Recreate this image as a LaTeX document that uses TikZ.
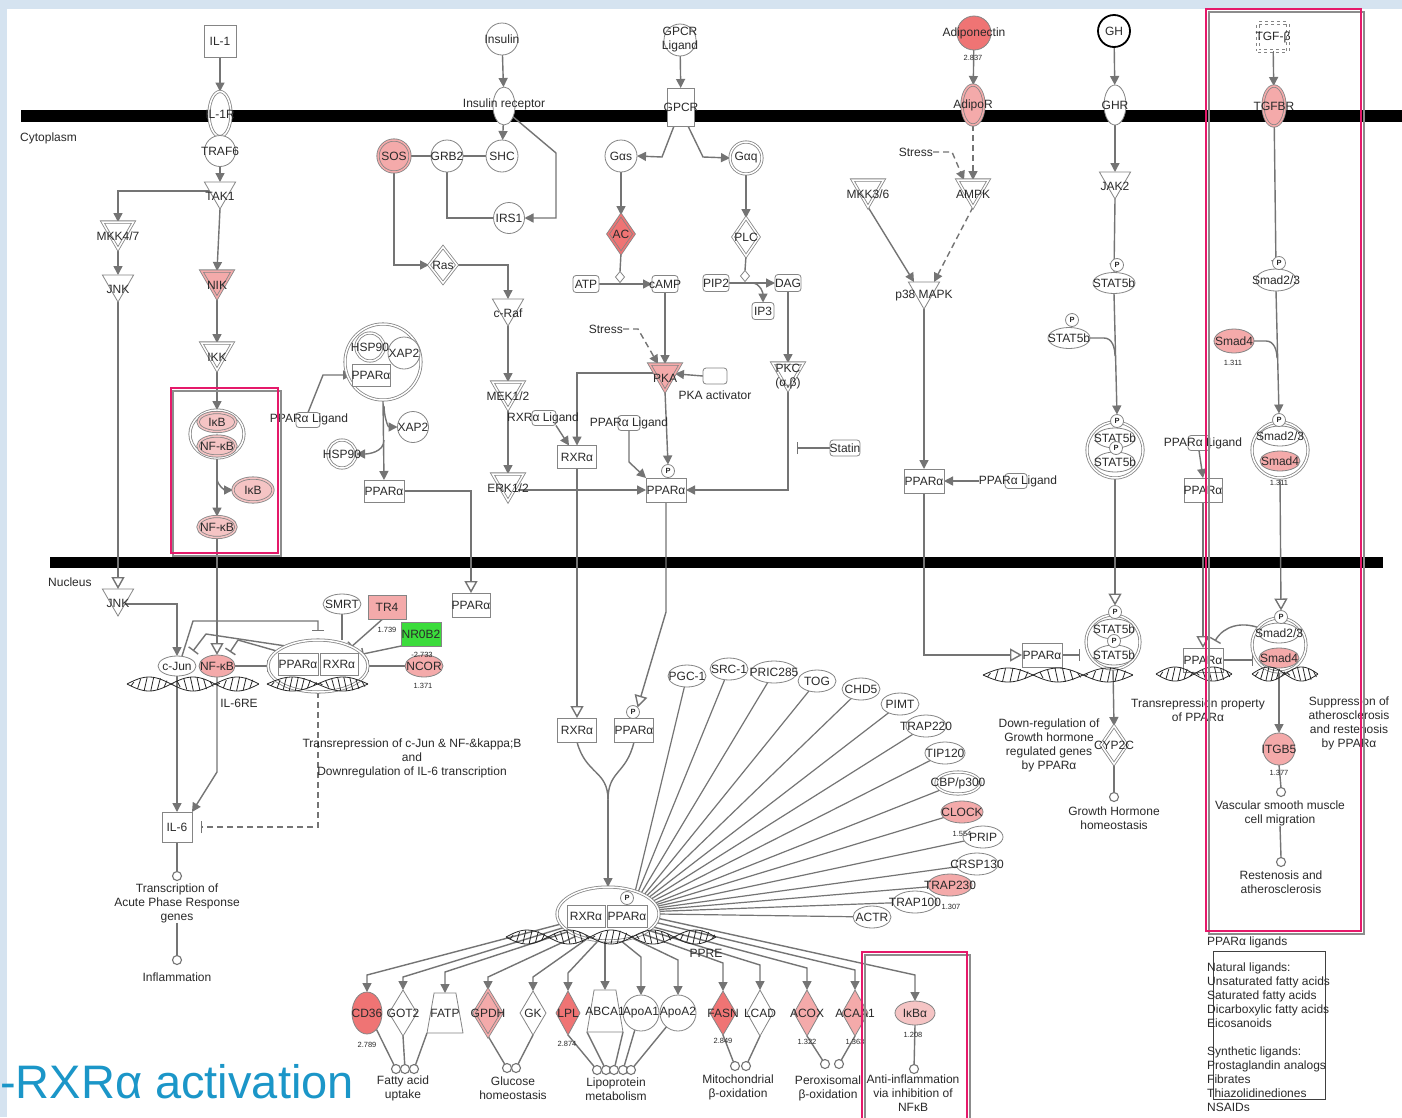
\documentclass[tikz,border=0pt]{standalone}
\usepackage{fontspec}
\setmainfont{Liberation Sans}
\usetikzlibrary{shapes.geometric,arrows.meta,calc}
\pgfdeclarelayer{back}
\pgfdeclarelayer{bg}
\pgfdeclarelayer{front}
\pgfsetlayers{back,bg,main,front}
\definecolor{ln}{HTML}{747474}
\definecolor{nb}{HTML}{858585}
\definecolor{tx}{HTML}{2A2A2A}
\definecolor{pk1}{HTML}{F5C4C4}
\definecolor{pk2}{HTML}{F4AAAA}
\definecolor{pk3}{HTML}{EF7474}
\definecolor{grn}{HTML}{3BDC3B}
\definecolor{hl}{HTML}{E5196A}
\definecolor{ttl}{HTML}{1B96C8}
\definecolor{bgb}{HTML}{D5E3F0}
\newcommand\lf{\fontsize{12}{14}\selectfont}
\newcommand\nf{\fontsize{7.5}{8}\selectfont}
\newcommand\dnahelix[5]{%
 \draw[hx] plot[domain=0:1,samples=70,variable=\t] ({#1+\t*(#2-#1)},{#3+7*sin(\t*180*#4)});
 \draw[hx] plot[domain=0:1,samples=70,variable=\t] ({#1+\t*(#2-#1)},{#3-7*sin(\t*180*#4)});
 \foreach \s in {#5}{\draw[hx] ({#1+\s*(#2-#1)},{#3+7*sin(\s*180*#4)}) -- ({#1+\s*(#2-#1)+3},{#3-7*sin(\s*180*#4)});}
}
\tikzset{
 shp/.style={draw=nb,fill=white,line width=0.8pt,inner sep=0pt,outer sep=0pt},
 bx/.style 2 args={shp,rectangle,minimum width=#1pt,minimum height=#2pt},
 rbx/.style 2 args={bx={#1}{#2},rounded corners=3pt},
 el/.style 2 args={shp,ellipse,minimum width=#1pt,minimum height=#2pt},
 ci/.style={shp,circle,minimum size=#1pt},
 dia/.style 2 args={shp,diamond,minimum width=#1pt,minimum height=#2pt},
 tri/.style={shp,regular polygon,regular polygon sides=3,shape border rotate=180,minimum size=#1pt},
 trap/.style 2 args={shp,trapezium,inner sep=2pt,trapezium left angle=72,trapezium right angle=72,trapezium stretches=true,minimum width=#1pt,minimum height=#2pt},
 dbl/.style={double=#1,double distance=1.5pt},
 dbl/.default=white,
 lbl/.style={font=\lf,text=tx,inner sep=0pt,align=center},
 tl/.style={lbl,yshift=-5pt},
 val/.style={font=\nf,text=tx,inner sep=0pt},
 pc/.style={ci=9,draw=ln,line width=1.1pt},
 pp/.style={ci=13,label={[font=\nf\bfseries,text=tx]center:P}},
 pl/.style={draw=ln,line width=1.4pt},
 ar/.style={pl,-{Triangle[length=9pt,width=9pt]}},
 oa/.style={pl,-{Triangle[open,length=12pt,width=13pt,fill=white]}},
 inh/.style={pl,-{Bar[width=12pt]}},
 dsh/.style={dash pattern=on 6pt off 4pt},
 hx/.style={draw=black!85,line width=0.8pt},
}
\begin{document}
\begin{tikzpicture}[x=1pt,y=-1pt]
\useasboundingbox (0,0) rectangle (1402,1117);
\begin{pgfonlayer}{back}
\fill[bgb] (0,0) rectangle (1402,1117);
\fill[white] (7,9) rectangle (1402,1117);
\fill[black] (21,110) rectangle (1402,122);
\fill[black] (50,557) rectangle (1383,568);
\end{pgfonlayer}
\node[anchor=base west,font=\fontsize{47}{47}\selectfont,text=ttl,inner sep=0pt] (title) at (0,1098) {-RXRα activation};
\node[lbl,anchor=west] (cyto) at (20,138) {Cytoplasm};
\node[lbl,anchor=west] (nucl) at (48,582) {Nucleus};
% ---------- IL-1 branch
\node[bx={32}{32},label={[lbl]center:{IL-1}}] (il1) at (220,41) {};
\node[el={22}{45},dbl,label={[lbl]center:{IL-1R}}] (il1r) at (220,114) {};
\node[ci=31,label={[lbl]center:{TRAF6}}] (traf6) at (220,151) {};
\node[tri=36,label={[tl]center:{TAK1}}] (tak1) at (220,191) {};
\node[tri=36,dbl,label={[tl]center:{MKK4/7}}] (mkk47) at (118,231) {};
\node[tri=36,label={[tl]center:{JNK}}] (jnk1) at (118,284) {};
\node[tri=36,dbl=pk2,fill=pk2,label={[tl]center:{NIK}}] (nik) at (217,280) {};
\node[tri=36,dbl,label={[tl]center:{IKK}}] (ikk) at (217,352) {};
\node[el={54}{48},dbl] (cxi) at (217,434) {};
\node[el={38}{19},dbl=pk1,fill=pk1,label={[lbl]center:{IκB}}] (ikb1) at (217,422) {};
\node[el={38}{20},dbl=pk1,fill=pk1,label={[lbl]center:{NF-κB}}] (nfkb1) at (217,446) {};
\node[el={40}{24},dbl=pk1,fill=pk1,label={[lbl]center:{IκB}}] (ikb2) at (253,490) {};
\node[el={38}{21},dbl=pk1,fill=pk1,label={[lbl]center:{NF-κB}}] (nfkb2) at (217,527) {};
% ---------- Insulin branch
\node[ci=32,label={[lbl]center:{Insulin}}] (ins) at (502,39) {};
\node[el={22}{38},label={[lbl,yshift=2pt]center:{Insulin receptor}}] (insr) at (504,106) {};
\node[ci=32,label={[lbl]center:{SHC}}] (shc) at (502,156) {};
\node[ci=32,label={[lbl]center:{GRB2}}] (grb2) at (447,156) {};
\node[ci=32,dbl=pk2,fill=pk2,label={[lbl]center:{SOS}}] (sos) at (394,156) {};
\node[ci=31,label={[lbl]center:{IRS1}}] (irs1) at (509,218) {};
\node[dia={28}{36},dbl,label={[lbl]center:{Ras}}] (ras) at (443,265) {};
\node[tri=36,label={[tl]center:{c-Raf}}] (craf) at (508,308) {};
\node[tri=36,dbl,label={[tl]center:{MEK1/2}}] (mek) at (508,391) {};
\node[tri=36,dbl,label={[tl]center:{ERK1/2}}] (erk) at (508,483) {};
% ---------- GPCR branch
\node[ci=32,label={[lbl]center:{GPCR\\Ligand}}] (gpcrl) at (680,40) {};
\node[bx={27}{38},label={[lbl]center:{GPCR}}] (gpcr) at (681,107) {};
\node[ci=32,label={[lbl]center:{Gαs}}] (gas) at (621,156) {};
\node[ci=32,dbl,label={[lbl]center:{Gαq}}] (gaq) at (746,158) {};
\node[dia={26}{38},dbl=pk3,fill=pk3,label={[lbl]center:{AC}}] (ac) at (621,234) {};
\node[dia={26}{38},dbl,label={[lbl]center:{PLC}}] (plc) at (746,237) {};
\node[rbx={26}{17},label={[lbl]center:{ATP}}] (atp) at (586,284) {};
\node[rbx={26}{17},label={[lbl]center:{cAMP}}] (camp) at (665,284) {};
\node[rbx={26}{17},label={[lbl]center:{PIP2}}] (pip2) at (716,283) {};
\node[rbx={26}{17},label={[lbl]center:{DAG}}] (dag) at (788,283) {};
\node[rbx={22}{17},label={[lbl]center:{IP3}}] (ip3) at (763,311) {};
\node[dia={9}{11}] (rd1) at (620,277) {};
\node[dia={9}{11}] (rd2) at (745,276) {};
\node[lbl,anchor=east] (str2) at (623,329) {Stress};
\node[tri=36,dbl=pk2,fill=pk2,label={[tl]center:{PKA}}] (pka) at (665,373) {};
\node[rbx={24}{16}] (pkaa) at (715,376) {};
\node[lbl] (pkaat) at (715,395) {PKA activator};
\node[tri=36,dbl,label={[tl]center:{PKC\\(α,β)}}] (pkc) at (788,372) {};
\node[rbx={30}{16},label={[lbl]center:{Statin}}] (statin) at (845,448) {};
\node[rbx={24}{15}] (rlb) at (544,418) {};
\node[lbl] (rlt) at (543,418) {RXRα Ligand};
\node[bx={39}{23},label={[lbl]center:{RXRα}}] (rxr1) at (577,457) {};
\node[rbx={22}{15}] (pl2b) at (629,423) {};
\node[lbl] (pl2t) at (629,423) {PPARα Ligand};
\node[bx={40}{24},label={[lbl]center:{PPARα}}] (ppar2) at (666,490) {};
\node[pp] (p2) at (668,471) {};
% ---------- HSP90 complex
\node[ci=76,dbl] (cxh) at (383,362) {};
\node[ci=32,label={[lbl]center:{XAP2}}] (xap1) at (404,353) {};
\node[ci=28,dbl,label={[lbl]center:{HSP90}}] (hsp1) at (370,347) {};
\node[bx={38}{22},label={[lbl]center:{PPARα}}] (pparc) at (371,375) {};
\node[rbx={24}{15}] (pl1b) at (308,420) {};
\node[lbl] (pl1t) at (309,419) {PPARα Ligand};
\node[ci=31,label={[lbl]center:{XAP2}}] (xap2) at (413,427) {};
\node[ci=28,dbl,label={[lbl]center:{HSP90}}] (hsp2) at (342,454) {};
\node[bx={40}{22},label={[lbl]center:{PPARα}}] (ppar1) at (384,491) {};
% ---------- Adiponectin branch
\node[ci=34,fill=pk3,label={[lbl]center:{Adiponectin}}] (adipo) at (974,33) {};
\node[val] (v1) at (973,58) {2.837};
\node[el={22}{40},dbl=pk2,fill=pk2,label={[lbl]center:{AdipoR}}] (adipor) at (973,105) {};
\node[lbl,anchor=east] (str1) at (933,152) {Stress};
\node[tri=36,dbl,label={[tl]center:{MKK3/6}}] (mkk36) at (868,189) {};
\node[tri=36,dbl,label={[tl]center:{AMPK}}] (ampk) at (973,189) {};
\node[tri=36,label={[tl]center:{p38 MAPK}}] (p38) at (924,291) {};
\node[bx={40}{24},label={[lbl]center:{PPARα}}] (ppar3) at (924,481) {};
\node[rbx={22}{15}] (pl3b) at (1016,481) {};
\node[lbl] (pl3t) at (1018,481) {PPARα Ligand};
% ---------- GH branch
\node[ci=32,draw=black,line width=1.8pt,label={[lbl]center:{GH}}] (gh) at (1114,31) {};
\node[el={22}{40},label={[lbl]center:{GHR}}] (ghr) at (1115,105) {};
\node[tri=36,label={[tl]center:{JAK2}}] (jak2) at (1115,181) {};
\node[el={42}{21},label={[lbl]center:{STAT5b}}] (st1) at (1114,283) {};
\node[pp] (st1p) at (1117,265) {};
\node[el={42}{21},label={[lbl]center:{STAT5b}}] (st2) at (1069,338) {};
\node[pp] (st2p) at (1072,320) {};
\node[ci=56,dbl] (cxs1) at (1115,450) {};
\node[el={40}{20},label={[lbl]center:{STAT5b}}] (st3) at (1115,438) {};
\node[el={40}{20},label={[lbl]center:{STAT5b}}] (st4) at (1115,462) {};
\node[pp] (st3p) at (1117,421) {};
\node[pp] (st4p) at (1116,448) {};
\node[rbx={22}{15}] (pl4b) at (1199,443) {};
\node[lbl] (pl4t) at (1203,443) {PPARα Ligand};
\node[bx={38}{24},label={[lbl]center:{PPARα}}] (ppar4) at (1203,490) {};
% ---------- TGF branch
\node[bx={30}{28},dashed,dbl,label={[lbl]center:{TGF-β}}] (tgfb) at (1273,37) {};
\node[el={22}{40},dbl=pk2,fill=pk2,label={[lbl]center:{TGFBR}}] (tgfbr) at (1274,106) {};
\node[el={40}{22},label={[lbl]center:{Smad2/3}}] (sm1) at (1276,280) {};
\node[pp] (sm1p) at (1279,263) {};
\node[el={40}{24},fill=pk2,label={[lbl]center:{Smad4}}] (sm4a) at (1234,341) {};
\node[val] (v2) at (1233,363) {1.311};
\node[ci=56,dbl] (cxsm1) at (1280,450) {};
\node[el={40}{20},label={[lbl]center:{Smad2/3}}] (sm2) at (1280,436) {};
\node[el={40}{20},fill=pk2,label={[lbl]center:{Smad4}}] (sm4b) at (1280,461) {};
\node[pp] (sm2p) at (1279,420) {};
\node[val] (v3) at (1279,483) {1.311};
% ---------- Nucleus left
\node[tri=36,label={[tl]center:{JNK}}] (jnk2) at (118,598) {};
\node[el={38}{20},label={[lbl]center:{c-Jun}}] (cjun) at (177,666) {};
\node[el={36}{22},fill=pk2,label={[lbl]center:{NF-κB}}] (nfkb3) at (217,666) {};
\node[lbl] (il6re) at (239,703) {IL-6RE};
\node[el={100}{52},dbl] (cxpr) at (318,666) {};
\node[bx={40}{22},label={[lbl]center:{PPARα}}] (pparn1) at (298,664) {};
\node[bx={38}{22},label={[lbl]center:{RXRα}}] (rxrn1) at (339,664) {};
\node[el={38}{20},label={[lbl]center:{SMRT}}] (smrt) at (342,604) {};
\node[bx={38}{24},fill=pk2,label={[lbl]center:{TR4}}] (tr4) at (387,607) {};
\node[val] (v4) at (387,630) {1.739};
\node[bx={40}{24},fill=grn,label={[lbl]center:{NR0B2}}] (nr0b2) at (421,634) {};
\node[el={38}{22},fill=pk2,label={[lbl]center:{NCOR}}] (ncor) at (424,666) {};
\node[val] (v5) at (422,655) {-2.733};
\node[val] (v6) at (423,686) {1.371};
\node[lbl] (trtxt) at (412,758) {Transrepression of c-Jun \& NF-\&kappa;B\\and\\Downregulation of IL-6 transcription};
\node[bx={30}{30},label={[lbl]center:{IL-6}}] (il6) at (177,827) {};
\node[pc] (pc1) at (177,876) {};
\node[lbl] (pc1t) at (177,903) {Transcription of\\Acute Phase Response\\genes};
\node[pc] (pc2) at (177,960) {};
\node[lbl] (pc2t) at (177,977) {Inflammation};
\node[bx={38}{24},label={[lbl]center:{PPARα}}] (pparn2) at (471,605) {};
% ---------- central nucleus
\node[bx={39}{24},label={[lbl]center:{RXRα}}] (rxrn2) at (577,730) {};
\node[bx={39}{24},label={[lbl]center:{PPARα}}] (pparn3) at (634,730) {};
\node[pp] (pn3p) at (633,712) {};
\coordinate (m1) at (608,800);
\node[el={102}{54},dbl] (big) at (608,914) {};
\node[bx={38}{22},label={[lbl]center:{RXRα}}] (rxrb) at (586,916) {};
\node[bx={40}{22},label={[lbl]center:{PPARα}}] (pparb) at (627,916) {};
\node[pp] (pbp) at (627,898) {};
\node[lbl] (ppre) at (706,953) {PPRE};
% coactivators
\node[el={38}{22},label={[lbl]center:{PGC-1}}] (pgc1) at (687,676) {};
\node[el={38}{22},label={[lbl]center:{SRC-1}}] (src1) at (729,669) {};
\node[el={46}{22},label={[lbl]center:{PRIC285}}] (pric) at (774,672) {};
\node[el={38}{22},label={[lbl]center:{TOG}}] (tog) at (817,681) {};
\node[el={38}{22},label={[lbl]center:{CHD5}}] (chd5) at (861,689) {};
\node[el={38}{22},label={[lbl]center:{PIMT}}] (pimt) at (900,704) {};
\node[el={40}{22},label={[lbl]center:{TRAP220}}] (trap220) at (926,726) {};
\node[el={40}{22},label={[lbl]center:{TIP120}}] (tip120) at (945,753) {};
\node[el={44}{22},dbl,label={[lbl]center:{CBP/p300}}] (cbp) at (958,783) {};
\node[el={42}{22},fill=pk2,label={[lbl]center:{CLOCK}}] (clock) at (962,812) {};
\node[el={40}{22},label={[lbl]center:{PRIP}}] (prip) at (983,837) {};
\node[val] (v7) at (962,834) {1.554};
\node[el={42}{22},label={[lbl]center:{CRSP130}}] (crsp) at (977,864) {};
\node[el={44}{22},fill=pk2,label={[lbl]center:{TRAP230}}] (trap230) at (950,885) {};
\node[el={44}{22},label={[lbl]center:{TRAP100}}] (trap100) at (915,902) {};
\node[val] (v8) at (951,907) {1.307};
\node[el={38}{22},label={[lbl]center:{ACTR}}] (actr) at (872,917) {};
% target genes
\node[el={30}{42},fill=pk3,label={[lbl]center:{CD36}}] (cd36) at (367,1013) {};
\node[val] (v9) at (367,1045) {2.789};
\node[dia={28}{46},label={[lbl]center:{GOT2}}] (got2) at (403,1013) {};
\node[trap={36}{40},label={[lbl]center:{FATP}}] (fatp) at (445,1013) {};
\node[dia={28}{46},dbl=pk2,fill=pk2,label={[lbl]center:{GPDH}}] (gpdh) at (488,1013) {};
\node[dia={26}{44},label={[lbl]center:{GK}}] (gk) at (533,1013) {};
\node[dia={24}{44},fill=pk3,label={[lbl]center:{LPL}}] (lpl) at (568,1013) {};
\node[val] (v10) at (567,1044) {2.874};
\node[trap={36}{42},label={[lbl]center:{ABCA1}}] (abca1) at (605,1011) {};
\node[ci=36,label={[lbl]center:{ApoA1}}] (apoa1) at (641,1013) {};
\node[ci=36,label={[lbl]center:{ApoA2}}] (apoa2) at (678,1013) {};
\node[dia={26}{44},fill=pk3,label={[lbl]center:{FASN}}] (fasn) at (723,1013) {};
\node[val] (v11) at (723,1041) {2.849};
\node[dia={26}{46},label={[lbl]center:{LCAD}}] (lcad) at (760,1013) {};
\node[dia={26}{46},fill=pk2,label={[lbl]center:{ACOX}}] (acox) at (807,1013) {};
\node[val] (v12) at (807,1042) {1.322};
\node[dia={26}{46},fill=pk2,label={[lbl]center:{ACAA1}}] (acaa1) at (855,1013) {};
\node[val] (v13) at (855,1042) {1.363};
\node[el={40}{24},fill=pk1,label={[lbl]center:{IκBα}}] (ikba) at (915,1013) {};
\node[val] (v14) at (913,1035) {1.208};
% process circles
\node[pc] (fa1) at (396,1069) {};
\node[pc] (fa2) at (405,1069) {};
\node[pc] (fa3) at (414,1069) {};
\node[lbl] (fat) at (403,1088) {Fatty acid\\uptake};
\node[pc] (gl1) at (507,1068) {};
\node[pc] (gl2) at (516,1068) {};
\node[lbl] (glt) at (513,1088) {Glucose\\homeostasis};
\node[pc] (lp1) at (597,1070) {};
\node[pc] (lp2) at (606,1070) {};
\node[pc] (lp3) at (614,1070) {};
\node[pc] (lp4) at (623,1070) {};
\node[pc] (lp5) at (631,1070) {};
\node[lbl] (lpt) at (616,1089) {Lipoprotein\\metabolism};
\node[pc] (mi1) at (735,1066) {};
\node[pc] (mi2) at (746,1066) {};
\node[lbl] (mit) at (738,1087) {Mitochondrial\\β-oxidation};
\node[pc] (pe1) at (825,1064) {};
\node[pc] (pe2) at (839,1064) {};
\node[lbl] (pet) at (828,1088) {Peroxisomal\\β-oxidation};
\node[pc] (ai1) at (914,1069) {};
\node[lbl] (ait) at (913,1093) {Anti-inflammation\\via inhibition of\\NFκB};
% ---------- right nucleus
\node[bx={40}{24},label={[lbl]center:{PPARα}}] (pparn4) at (1042,655) {};
\node[ci=54,dbl] (cxs2) at (1113,642) {};
\node[el={40}{20},label={[lbl]center:{STAT5b}}] (st5) at (1114,629) {};
\node[el={40}{20},label={[lbl]center:{STAT5b}}] (st6) at (1114,655) {};
\node[pp] (s5p) at (1115,612) {};
\node[pp] (s6p) at (1114,641) {};
\node[dia={26}{38},dbl,label={[lbl]center:{CYP2C}}] (cyp) at (1114,745) {};
\node[lbl] (dwn) at (1049,745) {Down-regulation of\\Growth hormone\\regulated genes\\by PPARα};
\node[pc] (pc3) at (1114,797) {};
\node[lbl] (pc3t) at (1114,818) {Growth Hormone\\homeostasis};
\node[bx={40}{24},label={[lbl]center:{PPARα}}] (pparn5) at (1203,660) {};
\node[ci=54,dbl] (cxsm2) at (1279,645) {};
\node[el={40}{20},label={[lbl]center:{Smad2/3}}] (sm5) at (1279,633) {};
\node[el={40}{20},fill=pk2,label={[lbl]center:{Smad4}}] (sm6) at (1279,658) {};
\node[pp] (sm5p) at (1281,617) {};
\node[lbl] (trp) at (1198,710) {Transrepression property\\of PPARα};
\node[lbl] (sup) at (1349,723) {Suppression of\\atherosclerosis\\and restenosis\\by PPARα};
\node[ci=32,fill=pk2,label={[lbl]center:{ITGB5}}] (itgb5) at (1279,749) {};
\node[val] (v15) at (1279,773) {1.377};
\node[pc] (pc4) at (1281,792) {};
\node[lbl] (pc4t) at (1280,813) {Vascular smooth muscle\\cell migration};
\node[pc] (pc5) at (1281,862) {};
\node[lbl] (pc5t) at (1281,882) {Restenosis and\\atherosclerosis};
\node[lbl,anchor=west] (ligt) at (1207,942) {PPARα ligands};
\node[draw=black!75,line width=0.7pt,minimum width=112pt,minimum height=148pt,anchor=north west,inner sep=0pt] (ligbox) at (1213,951) {};
\node[lbl,anchor=north west,align=left] (ligl) at (1207,963) {Natural ligands:\\Unsaturated fatty acids\\Saturated fatty acids\\Dicarboxylic fatty acids\\Eicosanoids\\[14pt]Synthetic ligands:\\Prostaglandin analogs\\Fibrates\\Thiazolidinediones\\NSAIDs};
% DNA helices
\dnahelix{127}{259}{684}{3}{0.03,0.08,...,0.98}
\dnahelix{267}{368}{684}{2}{0.04,0.1,...,0.98}
\dnahelix{506}{716}{937}{5}{0.02,0.05,...,0.98}
\dnahelix{983}{1133}{675}{3}{0.03,0.08,...,0.98}
\dnahelix{1156}{1232}{674}{2}{0.05,0.13,...,0.98}
\dnahelix{1252}{1318}{674}{2}{0.05,0.13,...,0.98}
% ---------- connectors
\begin{pgfonlayer}{bg}
\draw[ar] (il1) -- (il1r);
\draw[pl] (il1r) -- (traf6);
\draw[ar] (traf6) -- (tak1.north);
\draw[ar] (tak1.west) -| (mkk47.north);
\draw[ar] (tak1.south) -- (nik.north);
\draw[ar] (mkk47.south) -- (jnk1.north);
\draw[ar] (nik.south) -- (ikk.north);
\draw[ar] (ikk.south) -- (cxi.north);
\draw[ar] (cxi.south) -- (nfkb2.north);
\coordinate (b1) at (217,478);
\draw[ar] (b1) to[out=-90,in=180] (ikb2.west);
\draw[oa] (nfkb2.south) -- (nfkb3.north);
\draw[oa] (jnk1.south) -- (jnk2.north);
\draw[ar] ([xshift=-3pt,yshift=-6pt]jnk2.east) -| (cjun.north);
\draw[ar] (ins) -- (insr);
\draw[ar] (insr) -- (shc);
\draw[ar] (insr.-50) -- (556,153) |- (irs1.east);
\draw[pl] (sos) -- (grb2);
\draw[pl] (grb2) -- (shc);
\draw[pl] (grb2.south) |- (irs1.west);
\draw[ar] (sos.south) |- (ras.west);
\draw[ar] (ras.east) -| (craf.north);
\draw[ar] (craf.south) -- (mek.north);
\draw[ar] (mek.south) -- (erk.north);
\draw[ar] (erk.east |- ppar2.west) -- (ppar2.west);
\draw[ar] (gpcrl) -- (gpcr);
\draw[ar] ([xshift=-7pt]gpcr.south) -- (662,157) -- (gas.east);
\draw[ar] ([xshift=7pt]gpcr.south) -- (703,157) -- (gaq.west);
\draw[ar] (gas) -- (ac);
\draw[ar] (gaq) -- (plc);
\draw[pl] (ac.south) -- (rd1.north);
\draw[ar] (atp.east) -- (camp.west);
\draw[pl] (plc.south) -- (rd2.north);
\draw[ar] (pip2.east) -- (dag.west);
\coordinate (k4) at (752,283);
\draw[ar] (k4) to[out=0,in=90] (ip3.north);
\draw[ar] (camp.south) -- (pka.north);
\draw[ar,dsh] (str2.east) -- (638,329) -- ([xshift=-7pt]pka.north);
\draw[ar] (pkaa.west) -- (pka);
\draw[ar] (pka) -| (rxr1.north);
\draw[ar] (pka.south) -- (p2.north);
\draw[ar] (rlb.south east) -- ([xshift=-8pt]rxr1.north);
\draw[ar] (pl2b.south) -- (629,462) -- (ppar2.north west);
\draw[ar] (dag.south) -- (pkc.north);
\draw[ar] (pkc.south) |- (ppar2.east);
\coordinate (k6) at (797,448);
\draw[inh] (statin.west) -- (k6);
\draw[ar] (pl1b.north) -- (323,375) -- (pparc.west);
\draw[ar] (cxh.south) -- (ppar1.north);
\coordinate (k8) at (384,406);
\draw[ar] (k8) to[out=-90,in=180] (xap2.west);
\coordinate (k9) at (384,440);
\draw[ar] (k9) to[out=-90,in=0] (hsp2.east);
\draw[oa] (ppar1.east) -| (pparn2.north);
\draw[oa] (rxr1.south) -- (rxrn2.north);
\draw[oa] (ppar2.south) -- (666,612) -- (pn3p.north east);
\draw[ar] (adipo) -- (adipor);
\draw[ar,dsh] (adipor) -- (ampk.north);
\draw[ar,dsh] (str1.east) -- (952,152) -- ([xshift=-9pt]ampk.north);
\draw[ar] (mkk36.south) -- ([xshift=-10pt]p38.north);
\draw[ar,dsh] (ampk.south) -- ([xshift=10pt]p38.north);
\draw[ar] (p38.south) -- (ppar3.north);
\draw[ar] (pl3t.west) -- (ppar3.east);
\draw[oa] (ppar3.south) |- (pparn4.west);
\coordinate (k10) at (1080,655);
\draw[inh] (pparn4.east) -- (k10);
\draw[ar] (gh) -- (ghr);
\draw[ar] (ghr) -- (jak2.north);
\draw[ar] (jak2.south) -- (st1.north);
\draw[ar] (st1.south) -- (st3p.north);
\coordinate (k11) at (1115,356);
\draw[pl] (st2.east) -- (1104,338) to[out=0,in=90] (k11);
\draw[oa] (cxs1.south) -- (s5p.north);
\draw[ar] (cxs2.south) -- (cyp.north);
\draw[pl] (cyp.south) -- (pc3.north);
\draw[ar] (pl4b.south) -- (ppar4.north);
\draw[oa] (ppar4.south) -- (pparn5.north);
\coordinate (k12) at (1253,660);
\draw[inh] (pparn5.east) -- (k12);
\draw[inh] (cxsm2.140) to[out=160,in=60] ([xshift=12pt,yshift=7pt]pparn5.north);
\draw[ar] (tgfb) -- (tgfbr);
\draw[ar] (tgfbr) -- (sm1.north);
\draw[ar] (sm1.south) -- (sm2p.north);
\coordinate (k15) at (1277,358);
\draw[pl] (sm4a.east) -- (1266,341) to[out=0,in=90] (k15);
\draw[oa] (cxsm1.south) -- (sm5p.north);
\draw[ar] (cxsm2.south) -- (itgb5.north);
\draw[pl] (itgb5.south) -- (pc4.north);
\draw[pl] (pc4t.south) -- (pc5.north);
% nucleus left
\draw[inh] (nfkb3.east) -- (cxpr.west);
\coordinate (k13) at (318,631);
\draw[inh] ([xshift=5pt]cjun.north) -- (193,621) -- (318,621) -- (k13);
\coordinate (k14) at (193,651);
\draw[inh] (cxpr.148) -- (206,634) -- (k14);
\coordinate (k16) at (230,652);
\draw[inh] (cxpr.160) -- (238,640) -- (k16);
\draw[pl] (smrt.south) -- (smrt.south |- cxpr.north);
\draw[inh] (tr4.250) -- (cxpr.30);
\draw[inh] (nr0b2.south west) -- (cxpr.15);
\draw[inh] (ncor.west) -- (cxpr.east);
\draw[inh,dsh] (cxpr.south) |- ([xshift=9pt]il6.east);
\draw[ar] (cjun.south) -- (il6.north);
\draw[ar] (nfkb3.south) -- (217,772) -- (il6.north east);
\draw[pl] (il6.south) -- (pc1.north);
\draw[pl] (pc1t.south) -- (pc2.north);
% central
\draw[pl] (rxrn2.south) .. controls (586,775) and (608,770) .. (m1);
\draw[pl] (pparn3.south) .. controls (626,775) and (608,770) .. (m1);
\draw[ar] (m1) -- (big.north);
\foreach \n/\a in {pgc1/40,src1/36,pric/32,tog/28,chd5/25,pimt/22,trap220/19,tip120/16,cbp/13,clock/11,prip/9,crsp/7,trap230/5,trap100/3,actr/0}
  {\draw[pl,line width=1.2pt] (big.\a) -- (\n);}
\foreach \g/\a/\o in {cd36/192/17,got2/197/13,fatp/204/21,gpdh/215/13,gk/230/14,lpl/250/18,apoa1/295/38,apoa2/315/35,fasn/330/28,lcad/338/25,acox/344/22,acaa1/350/20,ikba/355/26}
  {\draw[ar] (big.\a) -- ([yshift=\o pt]\g.north) -- (\g.north);}
\draw[ar] (abca1.north |- big.south) -- (abca1.north);
\draw[pl] (cd36.-60) -- (fa1);
\draw[pl] (got2.south) -- (fa2);
\draw[pl] (fatp.bottom left corner) -- (fa3);
\draw[pl] (gpdh.south) -- (gl1);
\draw[pl] (gk.south) -- (gl2);
\draw[pl] (lpl.south) -- (lp1);
\draw[pl] (abca1.bottom left corner) -- (lp2);
\draw[pl] (abca1.bottom right corner) -- (lp3);
\draw[pl] (apoa1.250) -- (lp4);
\draw[pl] (apoa2.230) -- (lp5);
\draw[pl] (fasn.south) -- (mi1);
\draw[pl] (lcad.south) -- (mi2);
\draw[pl] (acox.south) -- (pe1);
\draw[pl] (acaa1.south) -- (pe2);
\draw[pl] (ikba.south) -- (ai1);
\end{pgfonlayer}
% ---------- highlight boxes
\begin{pgfonlayer}{front}
\draw[black!45,line width=1.3pt] (173,391) rectangle (281,556);
\draw[hl,line width=1.6pt] (171,388) rectangle (278,553);
\draw[black!45,line width=1.3pt] (1209,12) rectangle (1364,934);
\draw[hl,line width=1.6pt] (1206,9) rectangle (1361,931);
\draw[black!45,line width=1.3pt] (865,955) rectangle (970,1125);
\draw[hl,line width=1.6pt] (862,952) rectangle (967,1125);
\end{pgfonlayer}
\end{tikzpicture}
\end{document}
